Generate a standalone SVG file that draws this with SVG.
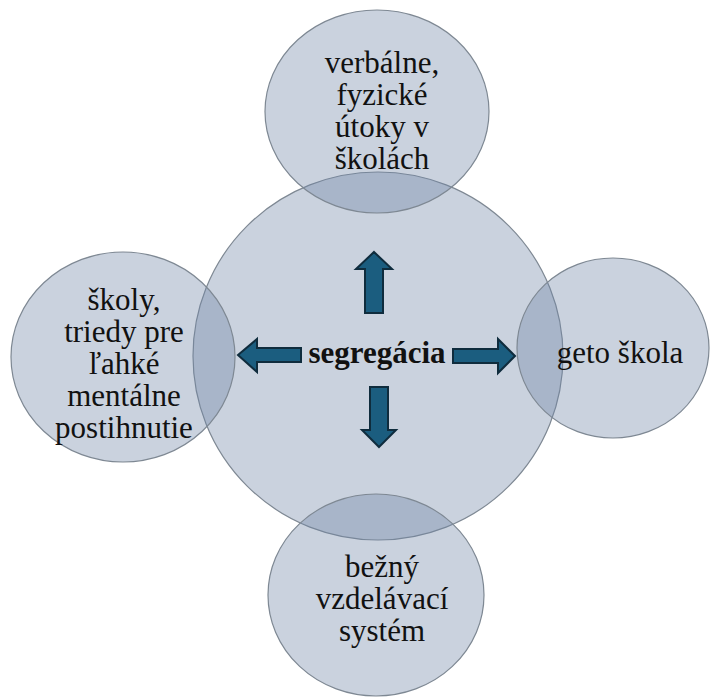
<svg xmlns="http://www.w3.org/2000/svg" width="711" height="697" viewBox="0 0 711 697">
  <style>
    .c { fill: #7084a6; fill-opacity: 0.37; stroke: #7e8893; stroke-width: 1.2; }
    .t { font-family: "Liberation Serif", "Tinos", "Noto Serif", "DejaVu Serif", "FreeSerif", "Times", serif; font-size: 31px; fill: #111; text-anchor: middle; }
    .tc { font-family: "Liberation Serif", "Tinos", "Noto Serif", "DejaVu Serif", "FreeSerif", "Times", serif; font-size: 31px; font-weight: bold; fill: #111; text-anchor: middle; }
    .a { fill: #1b5d7f; stroke: #0f2c3d; stroke-width: 2; stroke-linejoin: miter; }
  </style>
  <rect width="711" height="697" fill="#ffffff"/>
  <g id="node-center">
    <ellipse class="c" cx="378" cy="356" rx="185" ry="184"/>
    <text class="tc" x="377" y="363">segregácia</text>
  </g>
  <g id="node-top">
    <ellipse class="c" cx="377" cy="111.5" rx="112" ry="101.5"/>
    <text class="t" x="382" y="73">verbálne,</text>
    <text class="t" x="382" y="105">fyzické</text>
    <text class="t" x="382" y="137">útoky v</text>
    <text class="t" x="382" y="169">školách</text>
  </g>
  <g id="node-left">
    <ellipse class="c" cx="123" cy="357" rx="112" ry="105"/>
    <text class="t" x="124" y="310">školy,</text>
    <text class="t" x="124" y="342">triedy pre</text>
    <text class="t" x="124" y="374">ľahké</text>
    <text class="t" x="124" y="406">mentálne</text>
    <text class="t" x="124" y="438">postihnutie</text>
  </g>
  <g id="node-right">
    <ellipse class="c" cx="613" cy="348" rx="96" ry="90"/>
    <text class="t" x="620" y="363">geto škola</text>
  </g>
  <g id="node-bottom">
    <ellipse class="c" cx="376" cy="595" rx="108" ry="101"/>
    <text class="t" x="382" y="577">bežný</text>
    <text class="t" x="382" y="609">vzdelávací</text>
    <text class="t" x="382" y="641">systém</text>
  </g>
  <g id="connectors">
    <polygon class="a" points="374,252 392,269 383,269 383,313 365,313 365,269 356,269"/>
    <polygon class="a" points="379,447 396,430 388,430 388,387 370,387 370,430 362,430"/>
    <polygon class="a" points="238,355 257,339 257,348 301,348 301,362 257,362 257,372"/>
    <polygon class="a" points="515,356 498,339 498,349 453,349 453,363 498,363 498,373"/>
  </g>
</svg>
